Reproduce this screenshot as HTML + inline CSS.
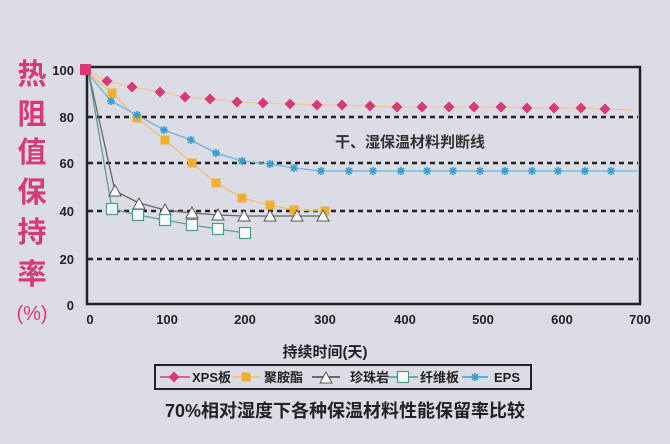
<!DOCTYPE html><html><head><meta charset="utf-8"><style>
body{margin:0;width:670px;height:439px;background:#dcdce6;overflow:hidden}
</style></head><body>
<svg width="670" height="439" xmlns="http://www.w3.org/2000/svg" font-family="Liberation Sans, Noto Sans CJK SC, sans-serif">
<defs>
<g id="d"><path d="M0,-5.5 L5.5,0 L0,5.5 L-5.5,0Z" fill="#d83a78"/></g>
<g id="s"><rect x="-4.5" y="-4.5" width="9" height="9" fill="#f0b02e"/></g>
<g id="t"><path d="M0,-6 L6,5 L-6,5Z" fill="#fff" stroke="#555" stroke-width="1"/></g>
<g id="q"><rect x="-5.5" y="-5.5" width="11" height="11" fill="#f4fbf8" stroke="#4a9a88" stroke-width="1.2"/></g>
<g id="e" stroke="#3a9fd0" stroke-width="1.6"><path d="M-4,0H4M0,-4V4M-3,-3L3,3M-3,3L3,-3"/></g>
</defs>
<g font-size="29" font-weight="bold" fill="#d63a7a" text-anchor="middle">
<text x="32" y="84">热</text><text x="32" y="124">阻</text><text x="32" y="162">值</text><text x="32" y="202">保</text><text x="32" y="242">持</text><text x="32" y="284">率</text>
<text x="32" y="320" font-size="20" font-weight="normal">(%)</text>
</g>
<g stroke="#222" stroke-width="2.5" stroke-dasharray="5,4">
<line x1="88" y1="117" x2="638" y2="117"/><line x1="88" y1="163" x2="638" y2="163"/><line x1="88" y1="211" x2="638" y2="211"/><line x1="88" y1="259" x2="638" y2="259"/>
</g>
<rect x="87" y="67" width="553" height="237" fill="none" stroke="#222" stroke-width="2.5"/>
<g font-size="13" font-weight="bold" fill="#222" text-anchor="end">
<text x="74" y="75">100</text><text x="74" y="122">80</text><text x="74" y="168">60</text><text x="74" y="216">40</text><text x="74" y="264">20</text><text x="74" y="310">0</text>
</g>
<g font-size="13" font-weight="bold" fill="#222" text-anchor="middle">
<text x="90" y="324">0</text><text x="167" y="324">100</text><text x="245" y="324">200</text><text x="325" y="324">300</text><text x="405" y="324">400</text><text x="483" y="324">500</text><text x="562" y="324">600</text><text x="640" y="324">700</text>
</g>
<text x="335" y="147" font-size="15" font-weight="bold" fill="#333">干、湿保温材料判断线</text>
<polyline fill="none" stroke="#f3c891" stroke-width="1.3" points="85,70 107,81 132,87 160,92 185,97 210,99 237,102 263,103 290,104 317,105 342,105 370,106 397,107 422,107 449,107 474,107 501,107 527,108 554,108 581,108 605,109 632,110"/>
<polyline fill="none" stroke="#f0c070" stroke-width="1.3" points="85,70 112,93 137,118 165,140 192,163 216,183 242,198 270,205 294,210 325,211"/>
<polyline fill="none" stroke="#6ab4d8" stroke-width="1.3" points="85,70 111,101 137,115 164,130 191,140 216,153 242,161 270,164 294,168 321,171 349,171 637,171"/>
<polyline fill="none" stroke="#666" stroke-width="1.3" points="88,70 115,191 139,203 165,210 192,213 218,215 244,216 323,216"/>
<polyline fill="none" stroke="#5aa090" stroke-width="1.3" points="88,70 112,209 138,215 165,220 192,225 218,229 245,233"/>
<g>
<use href="#d" x="107" y="81"/><use href="#d" x="132" y="87"/><use href="#d" x="160" y="92"/><use href="#d" x="185" y="97"/><use href="#d" x="210" y="99"/><use href="#d" x="237" y="102"/><use href="#d" x="263" y="103"/><use href="#d" x="290" y="104"/><use href="#d" x="317" y="105"/><use href="#d" x="342" y="105"/><use href="#d" x="370" y="106"/><use href="#d" x="397" y="107"/><use href="#d" x="422" y="107"/><use href="#d" x="449" y="107"/><use href="#d" x="474" y="107"/><use href="#d" x="501" y="107"/><use href="#d" x="527" y="108"/><use href="#d" x="554" y="108"/><use href="#d" x="581" y="108"/><use href="#d" x="605" y="109"/>
<use href="#s" x="112" y="93"/><use href="#s" x="137" y="118"/><use href="#s" x="165" y="140"/><use href="#s" x="192" y="163"/><use href="#s" x="216" y="183"/><use href="#s" x="242" y="198"/><use href="#s" x="270" y="205"/><use href="#s" x="294" y="210"/><use href="#s" x="325" y="211"/>
<use href="#e" x="111" y="101"/><use href="#e" x="137" y="115"/><use href="#e" x="164" y="130"/><use href="#e" x="191" y="140"/><use href="#e" x="216" y="153"/><use href="#e" x="242" y="161"/><use href="#e" x="270" y="164"/><use href="#e" x="294" y="168"/><use href="#e" x="321" y="171"/><use href="#e" x="349" y="171"/><use href="#e" x="373" y="171"/><use href="#e" x="401" y="171"/><use href="#e" x="427" y="171"/><use href="#e" x="453" y="171"/><use href="#e" x="480" y="171"/><use href="#e" x="505" y="171"/><use href="#e" x="532" y="171"/><use href="#e" x="558" y="171"/><use href="#e" x="585" y="171"/><use href="#e" x="611" y="171"/>
<use href="#t" x="115" y="191"/><use href="#t" x="139" y="204"/><use href="#t" x="165" y="210"/><use href="#t" x="192" y="213"/><use href="#t" x="218" y="215"/><use href="#t" x="244" y="216"/><use href="#t" x="270" y="216"/><use href="#t" x="297" y="216"/><use href="#t" x="323" y="216"/>
<use href="#q" x="112" y="209"/><use href="#q" x="138" y="215"/><use href="#q" x="165" y="220"/><use href="#q" x="192" y="225"/><use href="#q" x="218" y="229"/><use href="#q" x="245" y="233"/>
<rect x="80" y="64" width="11" height="11" fill="#d83a78"/>
</g>
<text x="325" y="357" font-size="15" font-weight="bold" fill="#222" text-anchor="middle">持续时间(天)</text>
<rect x="155" y="365" width="376" height="24" fill="#dcdce6" stroke="#222" stroke-width="2"/>
<g font-size="13" font-weight="bold" fill="#222">
<line x1="160" y1="377" x2="190" y2="377" stroke="#d83a78" stroke-width="1.5"/><use href="#d" x="174" y="377"/><text x="192" y="382">XPS板</text>
<line x1="233" y1="377" x2="260" y2="377" stroke="#f0c070" stroke-width="1.5"/><use href="#s" x="246" y="377"/><text x="264" y="382">聚胺酯</text>
<line x1="312" y1="377" x2="340" y2="377" stroke="#444" stroke-width="1.5"/><use href="#t" x="326" y="378"/><text x="350" y="382">珍珠岩</text>
<line x1="388" y1="377" x2="418" y2="377" stroke="#4a9a88" stroke-width="1.5"/><use href="#q" x="403" y="377"/><text x="420" y="382">纤维板</text>
<line x1="462" y1="377" x2="488" y2="377" stroke="#3a9fd0" stroke-width="1.5"/><use href="#e" x="475" y="377"/><text x="494" y="382">EPS</text>
</g>
<text x="345" y="417" font-size="18" font-weight="bold" fill="#222" text-anchor="middle">70%相对湿度下各种保温材料性能保留率比较</text>
</svg>
</body></html>
